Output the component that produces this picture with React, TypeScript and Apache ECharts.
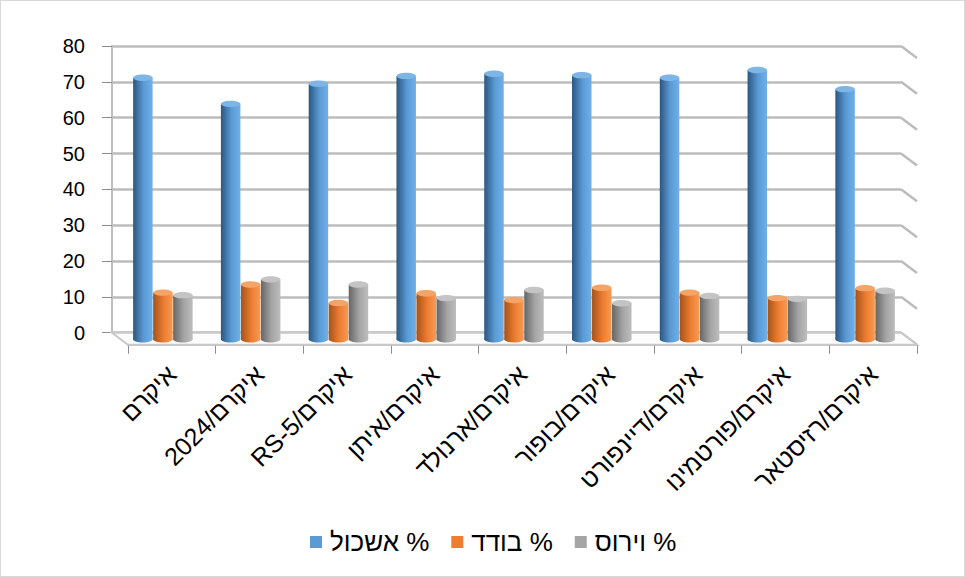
import React, { useEffect, useRef } from "react";
import * as echarts from "echarts";

const categories = [
  "איקרם",
  "2024/איקרם",
  "RS-5/איקרם",
  "איקרם/איתן",
  "איקרם/ארנולד",
  "איקרם/בופור",
  "איקרם/דיינפורט",
  "איקרם/פורטמינו",
  "איקרם/רזיסטאר",
];
const seriesNames = ["אשכול %", "בודד %", "וירוס %"];
const cluster = [71.1, 64.0, 69.5, 71.6, 72.2, 71.8, 71.1, 73.2, 68.0];
const single = [12.7, 14.9, 9.9, 12.5, 10.7, 14.0, 12.7, 11.2, 13.9];
const virus = [12.0, 16.3, 14.9, 11.2, 13.4, 9.8, 11.8, 11.0, 13.2];
const yTicks = [0, 10, 20, 30, 40, 50, 60, 70, 80];

const palette = [
  { dark: "#2a5780", main: "#5b9bd5", light: "#6fb0ea", top: "#7db6e6" },
  { dark: "#a4531a", main: "#ed7d31", light: "#f79a52", top: "#f5a468" },
  { dark: "#666666", main: "#a5a5a5", light: "#bdbdbd", top: "#c4c4c4" },
];

const FONT = "'Liberation Sans', 'DejaVu Sans', sans-serif";
const DX = 16;
const DY = 12;

export default function App() {
  const ref = useRef<HTMLDivElement>(null);
  useEffect(() => {
    if (!ref.current) return;
    const chart = echarts.init(ref.current, undefined, { renderer: "svg" });
    const n = categories.length;

    const barSeries = (name: string, values: number[], idx: number) => {
      const c = palette[idx];
      return {
        type: "custom",
        name,
        xAxisIndex: 2,
        yAxisIndex: 2,
        itemStyle: { color: c.main },
        encode: { x: 0, y: 1 },
        data: values.map((v, i) => [i, v]),
        z: 5,
        renderItem: (params: any, api: any) => {
          const i = api.value(0);
          const v = api.value(1);
          const top = api.coord([i, v]);
          const base = api.coord([i, 0]);
          const band = api.size([1, 0])[0];
          const w = band * 0.222;
          const cx = top[0] + (idx - 1) * band * 0.228;
          const ry = 3.2;
          const grad = new echarts.graphic.LinearGradient(0, 0, 1, 0, [
            { offset: 0, color: c.dark },
            { offset: 0.55, color: c.main },
            { offset: 1, color: c.light },
          ]);
          return {
            type: "group",
            children: [
              {
                type: "ellipse",
                shape: { cx, cy: base[1], rx: w / 2, ry },
                style: { fill: grad },
              },
              {
                type: "rect",
                shape: { x: cx - w / 2, y: top[1], width: w, height: base[1] - top[1] },
                style: { fill: grad },
              },
              {
                type: "ellipse",
                shape: { cx, cy: top[1], rx: w / 2, ry },
                style: { fill: c.top },
              },
            ],
          };
        },
      };
    };

    const option: any = {
      animation: false,
      backgroundColor: "#ffffff",
      textStyle: { fontFamily: FONT },
      legend: {
        bottom: 16,
        left: 304,
        icon: "rect",
        itemWidth: 12,
        itemHeight: 12,
        itemGap: 22,
        selectedMode: false,
        data: seriesNames,
        textStyle: { fontSize: 26, color: "#000", fontFamily: FONT, padding: [0, 0, 0, 3] },
      },
      grid: [
        { left: 111, top: 45, width: 789, height: 286.7 },
        { left: 111 + DX, top: 45 + DY, width: 789, height: 286.7 },
        { left: 118, top: 44, width: 790, height: 294.3 },
      ],
      xAxis: [
        { gridIndex: 0, type: "value", min: 0, max: n, show: false },
        {
          gridIndex: 1,
          type: "category",
          data: categories,
          axisLine: { show: true, lineStyle: { color: "#c8c8c8", width: 2 } },
          axisTick: { show: true, length: 9, lineStyle: { color: "#8c8c8c" } },
          axisLabel: {
            rotate: 45,
            interval: 0,
            margin: 25,
            fontSize: 25,
            color: "#000",
            fontFamily: FONT,
          },
        },
        { gridIndex: 2, type: "category", data: categories, show: false },
      ],
      yAxis: [
        {
          gridIndex: 0,
          type: "value",
          min: 0,
          max: 80,
          interval: 10,
          axisLine: { show: true, lineStyle: { color: "#bfbfbf", width: 2 } },
          axisTick: { show: true, length: 10, lineStyle: { color: "#8c8c8c" } },
          axisLabel: { fontSize: 20, color: "#000", margin: 27, fontFamily: FONT },
          splitLine: { show: true, lineStyle: { color: "#bcbcbc", width: 2.5 } },
        },
        { gridIndex: 1, type: "value", min: 0, max: 80, show: false },
        { gridIndex: 2, type: "value", min: 0, max: 80, show: false },
      ],
      series: [
        {
          type: "custom",
          xAxisIndex: 0,
          yAxisIndex: 0,
          silent: true,
          z: 1,
          data: yTicks.map((v) => [n, v]),
          encode: { x: 0, y: 1 },
          renderItem: (params: any, api: any) => {
            const p = api.coord([api.value(0), api.value(1)]);
            const children: any[] = [
              {
                type: "line",
                shape: { x1: p[0], y1: p[1], x2: p[0] + DX, y2: p[1] + DY },
                style: { stroke: "#bcbcbc", lineWidth: 2.5 },
              },
            ];
            if (api.value(1) === 0) {
              const q = api.coord([0, 0]);
              children.push({
                type: "polygon",
                shape: {
                  points: [
                    [q[0], q[1]],
                    [p[0], p[1]],
                    [p[0] + DX, p[1] + DY],
                    [q[0] + DX, q[1] + DY],
                  ],
                },
                style: { fill: "#fcfcfc", stroke: "#c8c8c8", lineWidth: 2 },
              });
            }
            return { type: "group", children };
          },
        },
        barSeries(seriesNames[0], cluster, 0),
        barSeries(seriesNames[1], single, 1),
        barSeries(seriesNames[2], virus, 2),
      ],
    };
    chart.setOption(option);
    return () => chart.dispose();
  }, []);

  return (
    <div
      style={{
        position: "fixed",
        left: 0,
        top: 0,
        width: 965,
        height: 577,
        boxSizing: "border-box",
        border: "1px solid #d9d9d9",
        background: "#fff",
      }}
    >
      <div ref={ref} style={{ width: 963, height: 575 }} />
    </div>
  );
}
